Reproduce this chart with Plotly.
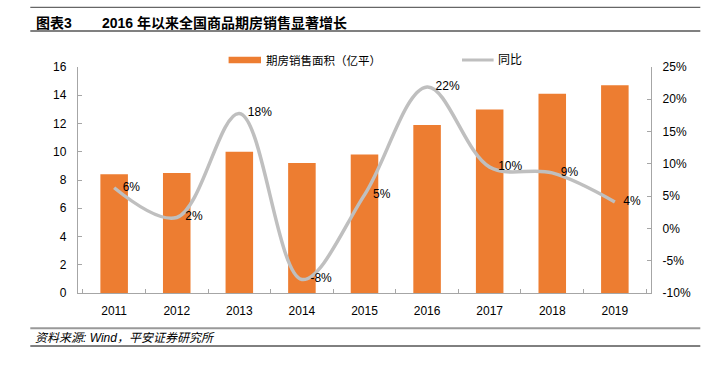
import plotly.graph_objects as go

years = ["2011", "2012", "2013", "2014", "2015", "2016", "2017", "2018", "2019"]
area = [8.4, 8.5, 10.0, 9.2, 9.8, 11.9, 13.0, 14.1, 14.7]
yoy = [6.3, 1.7, 17.8, -7.9, 5.2, 21.9, 9.5, 8.6, 4.1]
yoy_labels = ["6%", "2%", "18%", "-8%", "5%", "22%", "10%", "9%", "4%"]
left_ticks = [0, 2, 4, 6, 8, 10, 12, 14, 16]
right_ticks = [-10, -5, 0, 5, 10, 15, 20, 25]
right_tick_text = [f"{v}%" for v in right_ticks]

W, H = 713, 373
L, R, T, B = 77.7, 650.7, 67, 293

def xp(px):
    return (px - L) / (R - L)

def yp(py):
    return (B - py) / (B - T)

FONT = "Liberation Sans, Arial, Noto Sans CJK SC, sans-serif"
ORANGE = "#ED7D31"
GREY = "#BFBFBF"

fig = go.Figure()
fig.add_trace(go.Bar(x=years, y=area, marker=dict(color=ORANGE, line=dict(width=0)),
                     name="期房销售面积（亿平）", showlegend=False, hoverinfo="skip"))
fig.add_trace(go.Scatter(x=years, y=yoy, yaxis="y2", mode="lines",
                         line=dict(color=GREY, width=3.5, shape="spline", smoothing=1.0),
                         name="同比", showlegend=False, hoverinfo="skip"))
fig.add_trace(go.Scatter(x=years, y=yoy, yaxis="y2", mode="markers+text",
                         marker=dict(size=12, opacity=0), text=yoy_labels,
                         textposition="middle right",
                         textfont=dict(size=12, color="#000000", family=FONT),
                         showlegend=False, hoverinfo="skip", cliponaxis=False))

axis_common = dict(showline=True, linecolor="#A6A6A6", linewidth=1.3, showgrid=False,
                   zeroline=False, ticks="inside", ticklen=4, tickcolor="#A6A6A6",
                   automargin=False,
                   tickfont=dict(size=12, color="#000000", family=FONT))

fig.update_layout(
    width=W, height=H,
    margin=dict(l=L, r=W - R, t=T, b=H - B, pad=0, autoexpand=False),
    paper_bgcolor="white", plot_bgcolor="white",
    bargap=0.56,
    showlegend=False,
    font=dict(family=FONT, color="#000000"),
    xaxis=dict(**axis_common, type="category", tickson="boundaries", ticklabelstandoff=6),
    yaxis=dict(**axis_common, range=[0, 16], tickvals=left_ticks, ticklabelstandoff=8),
    yaxis2=dict(**axis_common, range=[-10, 25], tickvals=right_ticks, ticktext=right_tick_text,
                overlaying="y", side="right", ticklabelstandoff=8),
)

shapes = [
    dict(type="line", xref="paper", yref="paper", x0=xp(30), x1=xp(700), y0=yp(7.3), y1=yp(7.3),
         line=dict(color="#404040", width=1)),
    dict(type="line", xref="paper", yref="paper", x0=xp(30), x1=xp(700), y0=yp(31), y1=yp(31),
         line=dict(color="#808080", width=2)),
    dict(type="line", xref="paper", yref="paper", x0=xp(30), x1=xp(700), y0=yp(328.3), y1=yp(328.3),
         line=dict(color="#999999", width=2)),
    dict(type="line", xref="paper", yref="paper", x0=xp(30), x1=xp(700), y0=yp(346), y1=yp(346),
         line=dict(color="#000000", width=1)),
    dict(type="rect", xref="paper", yref="paper", x0=xp(228.3), x1=xp(260.7), y0=yp(63.3), y1=yp(56.7),
         fillcolor=ORANGE, line=dict(width=0)),
    dict(type="line", xref="paper", yref="paper", x0=xp(461.7), x1=xp(493.3), y0=yp(60), y1=yp(60),
         line=dict(color=GREY, width=3)),
]
annotations = [
    dict(text="<b>图表3</b>", x=xp(34), y=yp(22.7), xref="paper", yref="paper", xanchor="left",
         yanchor="middle", showarrow=False, font=dict(size=14, color="#000000", family=FONT)),
    dict(text="<b>2016 年以来全国商品期房销售显著增长</b>", x=xp(100), y=yp(22.7), xref="paper",
         yref="paper", xanchor="left", yanchor="middle", showarrow=False,
         font=dict(size=14, color="#000000", family=FONT)),
    dict(text="<i>资料来源: Wind，平安证券研究所</i>", x=xp(33), y=yp(338), xref="paper", yref="paper",
         xanchor="left", yanchor="middle", showarrow=False,
         font=dict(size=12, color="#000000", family=FONT)),
    dict(text="期房销售面积（亿平）", x=xp(263.3), y=yp(60), xref="paper", yref="paper",
         xanchor="left", yanchor="middle", showarrow=False,
         font=dict(size=11.5, color="#000000", family=FONT)),
    dict(text="同比", x=xp(496), y=yp(60), xref="paper", yref="paper",
         xanchor="left", yanchor="middle", showarrow=False,
         font=dict(size=12, color="#000000", family=FONT)),
]
fig.update_layout(shapes=shapes, annotations=annotations)

fig.write_html("out.html", config={"displayModeBar": False},
               post_script="document.body.style.margin='0';document.body.style.padding='0';")
